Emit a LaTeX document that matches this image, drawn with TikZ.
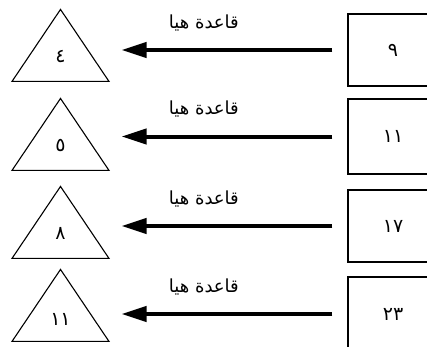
\documentclass[tikz,border=0pt]{standalone}
\usepackage{fontspec}
\newfontfamily\arabicfont[Script=Arabic]{DejaVu Sans}
\TeXXeTstate=1
\usetikzlibrary{arrows.meta,shapes.geometric}

\begin{document}
\begin{tikzpicture}[
    x=1pt, y=-1pt,
    numbox/.style={draw, line width=1.4pt, minimum width=90pt, inner sep=0pt, font=\arabicfont\fontsize{19}{21}\selectfont},
    tri/.style={draw, line width=1.1pt, isosceles triangle, isosceles triangle stretches, shape border rotate=90,
        minimum width=97pt, minimum height=72pt, inner sep=0pt, anchor=apex, font=\arabicfont\fontsize{19}{21}\selectfont},
    arr/.style={-{Triangle[length=25pt, width=15pt]}, line width=4pt, shorten <=15pt, shorten >=61pt},
    rule/.style={font=\arabicfont\fontsize{18}{20}\selectfont, inner sep=0pt},
]
    \useasboundingbox (0,0) rectangle (427,346);
    \clip (0,0) rectangle (427,346);

    % input numbers
    \node[numbox, minimum height=72pt] (b1) at (393, 50) {٩};
    \node[numbox, minimum height=75pt] (b2) at (393, 136.5) {١١};
    \node[numbox, minimum height=72pt] (b3) at (393, 226) {١٧};
    \node[numbox, minimum height=74pt] (b4) at (393, 314) {٢٣};

    % outputs
    \node[tri] (t1) at (60.5, 8) {٤};
    \node[tri] (t2) at (60.5, 97) {٥};
    \node[tri] (t3) at (60.5, 185) {٨};
    \node[tri] (t4) at (60.5, 268) {١١};

    \draw[arr] (b1.west) -- (b1.west -| t1.apex) node[rule, midway, above=17pt] {\beginR قاعدة هيا\endR};
    \draw[arr] (b2.west) -- (b2.west -| t2.apex) node[rule, midway, above=17pt] {\beginR قاعدة هيا\endR};
    \draw[arr] (b3.west) -- (b3.west -| t3.apex) node[rule, midway, above=17pt] {\beginR قاعدة هيا\endR};
    \draw[arr] (b4.west) -- (b4.west -| t4.apex) node[rule, midway, above=17pt] {\beginR قاعدة هيا\endR};
\end{tikzpicture}
\end{document}
